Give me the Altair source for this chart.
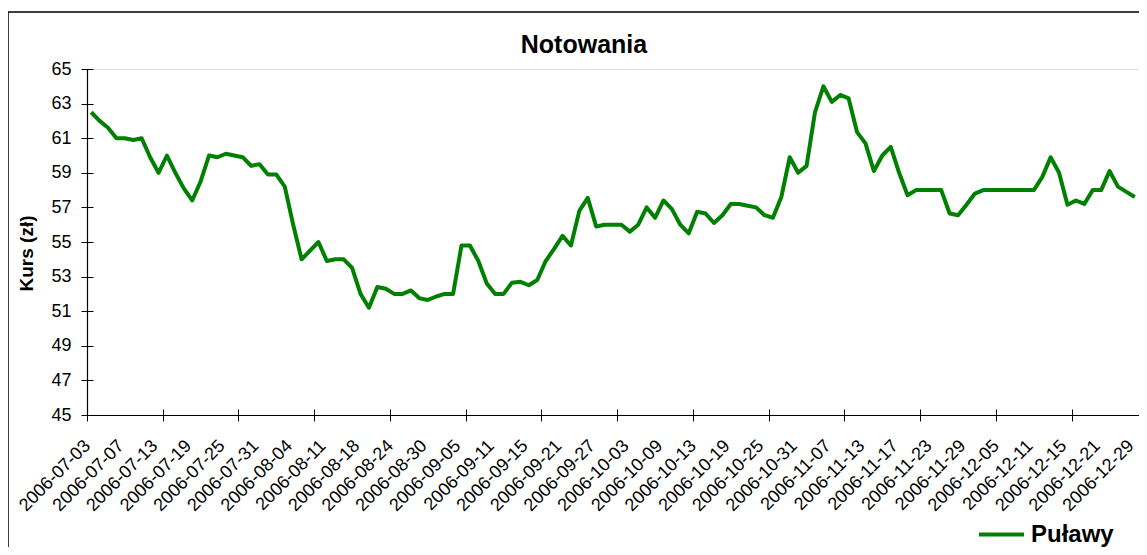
import altair as alt
import pandas as pd

FONT = "Liberation Sans"

# Closing prices (one per trading day, 2006-07-03 .. 2006-12-29)
values = [
    62.5, 62.0, 61.6, 61.0, 61.0, 60.9, 61.0, 59.9, 59.0, 60.0,
    59.0, 58.1, 57.4, 58.5, 60.0, 59.9, 60.1, 60.0, 59.9, 59.4,
    59.5, 58.9, 58.9, 58.2, 56.0, 54.0, 54.5, 55.0, 53.9, 54.0,
    54.0, 53.5, 52.0, 51.2, 52.4, 52.3, 52.0, 52.0, 52.2, 51.75,
    51.65, 51.85, 52.0, 52.0, 54.8, 54.8, 53.9, 52.6, 52.0, 52.0,
    52.65, 52.7, 52.5, 52.8, 53.9, 54.6, 55.35, 54.8, 56.8, 57.55,
    55.9, 56.0, 56.0, 56.0, 55.6, 56.0, 57.0, 56.4, 57.4, 56.9,
    56.0, 55.5, 56.75, 56.65, 56.1, 56.55, 57.2, 57.2, 57.1, 57.0,
    56.55, 56.4, 57.6, 59.9, 59.0, 59.4, 62.5, 64.0, 63.1, 63.5,
    63.3, 61.35, 60.7, 59.1, 60.0, 60.5, 59.0, 57.7, 58.0, 58.0,
    58.0, 58.0, 56.65, 56.55, 57.15, 57.8, 58.0, 58.0, 58.0, 58.0,
    58.0, 58.0, 58.0, 58.75, 59.9, 59.0, 57.15, 57.4, 57.2, 58.0,
    58.0, 59.1, 58.2, 57.9, 57.6,
]

# Category labels shown on the x axis (every 4th trading day)
date_labels = [
    "2006-07-03", "2006-07-07", "2006-07-13", "2006-07-19", "2006-07-25",
    "2006-07-31", "2006-08-04", "2006-08-11", "2006-08-18", "2006-08-24",
    "2006-08-30", "2006-09-05", "2006-09-11", "2006-09-15", "2006-09-21",
    "2006-09-27", "2006-10-03", "2006-10-09", "2006-10-13", "2006-10-19",
    "2006-10-25", "2006-10-31", "2006-11-07", "2006-11-13", "2006-11-17",
    "2006-11-23", "2006-11-29", "2006-12-05", "2006-12-11", "2006-12-15",
    "2006-12-21", "2006-12-29",
]

series_name = "Puławy"
y_ticks = list(range(45, 66, 2))
label_step = 4
tick_step = 9

n = len(values)
df = pd.DataFrame({"idx": list(range(n)), "kurs": values, "seria": [series_name] * n})

label_positions = [i * label_step for i in range(len(date_labels))]
tick_positions = [-0.5 + tick_step * m for m in range(int((n) / tick_step) + 1)]
label_expr = "[" + ",".join("'" + s + "'" for s in date_labels) + "][round(datum.value / %d)]" % label_step

W, H = 1052, 346
xscale = alt.Scale(domain=[-0.5, n - 0.5], nice=False, zero=False)
yscale = alt.Scale(domain=[45, 65], nice=False, zero=False)

line = alt.Chart(df).mark_line(strokeWidth=4, strokeJoin="round").encode(
    x=alt.X("idx:Q", scale=xscale, axis=alt.Axis(
        orient="bottom", values=label_positions, labelExpr=label_expr,
        labelAngle=-45, labelAlign="right", labelBaseline="middle",
        labelPadding=28, labelOffset=-4, labelFontSize=18, labelFont=FONT,
        labelColor="black",
        labelOverlap=False, labelFlush=False, labelBound=False,
        ticks=False, tickSize=0, grid=False, domain=True,
        domainColor="black", domainWidth=1.2, title=None)),
    y=alt.Y("kurs:Q", scale=yscale, axis=alt.Axis(
        orient="left", values=y_ticks, labelFontSize=18, labelFont=FONT,
        labelColor="black", labelPadding=16, ticks=False, tickSize=0,
        grid=False, domain=True, domainColor="black", domainWidth=1.2,
        title="Kurs (zł)", titleFont=FONT, titleFontSize=19, titleFontWeight="bold",
        titleColor="black", titleAngle=-90, titleX=-55, titleY=184,
        titleAlign="center", titleBaseline="alphabetic")),
    color=alt.Color("seria:N", scale=alt.Scale(range=["#008000"]), legend=alt.Legend(
        title=None, orient="none", legendX=890, legendY=441, padding=0,
        symbolType="stroke", symbolSize=2025, symbolStrokeWidth=4,
        labelFont=FONT, labelFontSize=24, labelFontWeight="bold",
        labelColor="black", labelOffset=5)),
)

ticks_layer = alt.Chart(df).mark_line(opacity=0).encode(
    x=alt.X("idx:Q", scale=xscale, axis=alt.Axis(
        orient="bottom", values=tick_positions, labels=False, ticks=True,
        tickSize=12, tickColor="black", tickWidth=1, offset=-6,
        domain=False, grid=False, title=None)),
    y=alt.Y("kurs:Q", scale=yscale, axis=alt.Axis(
        orient="left", values=y_ticks, labels=False, ticks=True,
        tickSize=12, tickColor="black", tickWidth=1, offset=-6,
        domain=False, grid=False, title=None)),
)

frame_df = pd.DataFrame({"k": [0]})
frame = alt.Chart(frame_df).mark_rect(fill=None, stroke="black", strokeWidth=1.5).encode(
    x=alt.value(-79), x2=alt.value(1300), y=alt.value(-57), y2=alt.value(700)
)

title_df = pd.DataFrame({"t": ["Notowania"]})
title = alt.Chart(title_df).mark_text(
    font=FONT, fontSize=25, fontWeight="bold", color="black",
    align="center", baseline="alphabetic"
).encode(text="t:N", x=alt.value(497), y=alt.value(-16))

chart = alt.layer(frame, ticks_layer, line, title).resolve_axis(
    x="independent", y="independent"
).resolve_scale(x="shared", y="shared").properties(
    width=W, height=H,
    autosize=alt.AutoSizeParams(type="none"),
    padding={"left": 79, "top": 61, "right": 0, "bottom": 132},
).configure_view(stroke="#808080", strokeWidth=1.5).configure(background="white")

chart.save("out.html", embed_options={"renderer": "svg", "actions": False})
